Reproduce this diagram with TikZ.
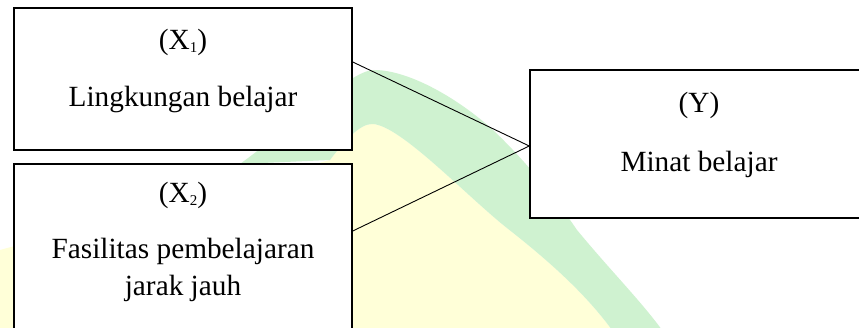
\documentclass[tikz,border=0pt]{standalone}
\usepackage{fontspec}
\setmainfont{Liberation Serif}
\definecolor{wmgreen}{RGB}{207,242,208}
\definecolor{wmyellow}{RGB}{255,255,216}
\tikzset{
  box/.style={draw=black, line width=1.5pt, fill=white, inner sep=0pt},
  lbl/.style={anchor=base, inner sep=0pt, font=\fontsize{29.3}{37}\selectfont},
  conn/.style={draw=black, line width=0.9pt}
}
\newcommand{\subn}[1]{\raisebox{-3pt}{\fontsize{15}{15}\selectfont #1}}
\begin{document}
\begin{tikzpicture}[x=1pt,y=-1pt]
\useasboundingbox (0,0) rectangle (859,328);
\clip (0,0) rectangle (859,328);
\fill[white] (0,0) rectangle (859,328);
% faint watermark
\fill[wmyellow] (330,160) .. controls (345,140) and (360,124) .. (372,124)
  .. controls (400,124) and (470,200) .. (512,232)
  .. controls (560,270) and (590,300) .. (612,330) -- (0,330) -- (0,250) -- cycle;
\fill[wmgreen] (240,164) .. controls (300,120) and (352,70) .. (374,70)
  .. controls (410,70) and (460,100) .. (493,130)
  .. controls (530,165) and (560,205) .. (577,230)
  .. controls (610,270) and (640,300) .. (662,330)
  -- (612,330)
  .. controls (590,300) and (560,270) .. (512,232)
  .. controls (470,200) and (400,124) .. (372,124)
  .. controls (360,124) and (345,140) .. (330,160) -- cycle;
% boxes
\node[box, minimum width=338pt, minimum height=142pt] (x1) at (183,79) {};
\node[box, minimum width=338pt, minimum height=176pt] (x2) at (183,252) {};
\node[box, minimum width=360pt, minimum height=148pt] (y) at (710,144) {};
% texts
\node[lbl] (t1a) at (183,50) {(X\subn{1})};
\node[lbl] (t1b) at (183,107) {Lingkungan belajar};
\node[lbl] (t2a) at (183,203) {(X\subn{2})};
\node[lbl] (t2b) at (183,259) {Fasilitas pembelajaran};
\node[lbl] (t2c) at (183,296) {jarak jauh};
\node[lbl] (tya) at (699,113) {(Y)};
\node[lbl] (tyb) at (699,172) {Minat belajar};
% connectors
\draw[conn] ([yshift=17pt]x1.east) -- ([yshift=-2pt]y.west);
\draw[conn] ([yshift=21pt]x2.east) -- ([yshift=-2pt]y.west);
\end{tikzpicture}
\end{document}
